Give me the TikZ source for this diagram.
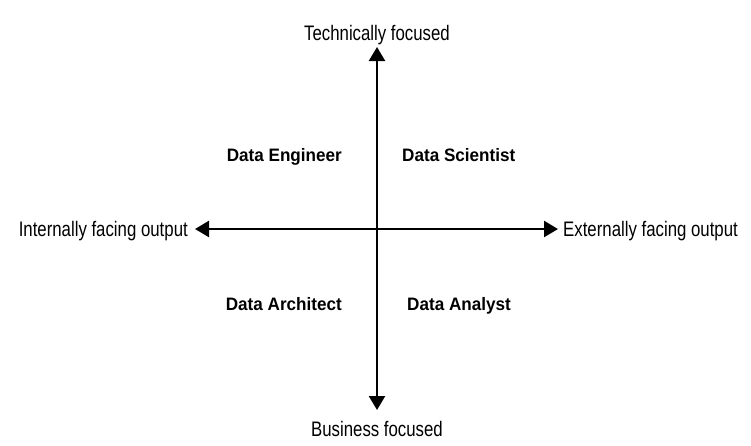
\documentclass[tikz,border=0pt]{standalone}
\usepackage{fontspec}
\setmainfont[FakeStretch=0.95]{Liberation Sans}
\newfontfamily\axisfont[FakeStretch=0.8]{Liberation Sans}
\usetikzlibrary{arrows.meta}
\tikzset{
    axislabel/.style={font=\axisfont\fontsize{21}{24}\selectfont, inner sep=0pt},
    rolelabel/.style={font=\fontsize{18}{21}\selectfont\bfseries, inner sep=0pt},
    axisline/.style={line width=2.4pt, {Triangle[length=14pt,width=16pt]}-{Triangle[length=14pt,width=16pt]}}
}
\begin{document}
\begin{tikzpicture}[x=1pt, y=-1pt]
    \useasboundingbox (0,0) rectangle (751,445);
    \coordinate (top) at (377,47);
    \coordinate (bottom) at (377,410);
    \coordinate (left) at (195,229);
    \coordinate (right) at (558,229);
    \draw[axisline] (bottom) -- (top);
    \draw[axisline] (left) -- (right);
    \node (tech) at (377,40) [axislabel, anchor=base] {Technically focused};
    \node (business) at (377,436) [axislabel, anchor=base] {Business focused};
    \node (internal) at (188,236) [axislabel, anchor=base east] {Internally facing output};
    \node (external) at (563,236) [axislabel, anchor=base west] {Externally facing output};
    \node (engineer) at (342,161) [rolelabel, anchor=base east] {Data Engineer};
    \node (scientist) at (402,161) [rolelabel, anchor=base west] {Data Scientist};
    \node (architect) at (342,310) [rolelabel, anchor=base east] {Data Architect};
    \node (analyst) at (407,310) [rolelabel, anchor=base west] {Data Analyst};
\end{tikzpicture}
\end{document}
